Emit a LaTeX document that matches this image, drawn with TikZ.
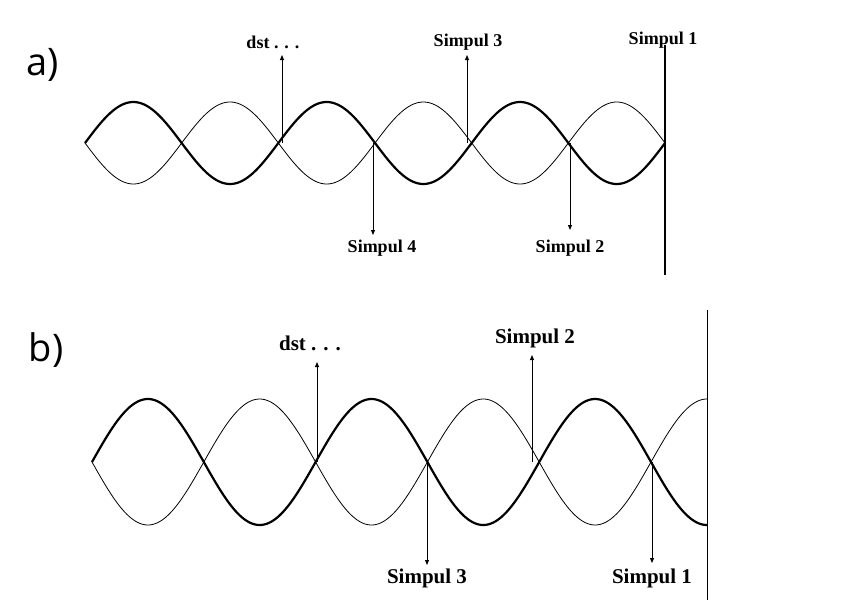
\documentclass[tikz,border=0pt]{standalone}
\usepackage{fontspec}
\setmainfont{Liberation Serif}
\newfontfamily\lab{Open Sans}
\usetikzlibrary{arrows.meta}
\begin{document}
\begin{tikzpicture}[x=1pt,y=-1pt,
  thick wave/.style={line width=2.2pt},
  thin wave/.style={line width=0.8pt},
  arr/.style={line width=0.9pt,-{Triangle[length=5pt,width=4pt]}},
  lbl/.style={font=\bfseries\fontsize{18}{18}\selectfont,inner sep=1pt},
  lblb/.style={font=\bfseries\fontsize{21}{21}\selectfont,inner sep=1pt},
  part/.style={font=\lab\fontsize{38}{38}\selectfont}]
\useasboundingbox (0,0) rectangle (850,608);
\node[part] (pa) at (43,65) {a)};
\node[part] (pb) at (46,350) {b)};
% part a
\draw[thick wave] plot[domain=85:665,samples=300] (\x,{143-41*sin(1.8620*(\x-85))});
\draw[thin wave] plot[domain=85:665,samples=300] (\x,{143+41*sin(1.8620*(\x-85))});
\draw[line width=2pt] (665,45) -- (665,275);
\coordinate (a1) at (282,143); \coordinate (a1e) at (282,55);
\coordinate (a3) at (467,143); \coordinate (a3e) at (467,55);
\coordinate (a4) at (373,143); \coordinate (a4e) at (373,235);
\coordinate (a2) at (570,143); \coordinate (a2e) at (570,230);
\draw[arr] (a1) -- (a1e); \draw[arr] (a3) -- (a3e);
\draw[arr] (a4) -- (a4e); \draw[arr] (a2) -- (a2e);
\node[lbl] (la1) at (273,42) {dst . . .};
\node[lbl] (la3) at (468,42) {Simpul 3};
\node[lbl] (la0) at (663,40) {Simpul 1};
\node[lbl] (la4) at (382,248) {Simpul 4};
\node[lbl] (la2) at (570,248) {Simpul 2};
% part b
\draw[thick wave] plot[domain=92:707,samples=300] (\x,{462-63*sin(1.6100*(\x-92))});
\draw[thin wave] plot[domain=92:707,samples=300] (\x,{462+63*sin(1.6100*(\x-92))});
\draw[line width=1pt] (707,310) -- (707,600);
\coordinate (b1) at (317,462); \coordinate (b1e) at (317,362);
\coordinate (b2) at (532,462); \coordinate (b2e) at (532,355);
\coordinate (b3) at (427,462); \coordinate (b3e) at (427,565);
\coordinate (b4) at (652,462); \coordinate (b4e) at (652,563);
\draw[arr] (b1) -- (b1e); \draw[arr] (b2) -- (b2e);
\draw[arr] (b3) -- (b3e); \draw[arr] (b4) -- (b4e);
\node[lblb] (lb1) at (310,343) {dst . . .};
\node[lblb] (lb2) at (535,338) {Simpul 2};
\node[lblb] (lb3) at (427,578) {Simpul 3};
\node[lblb] (lb4) at (652,578) {Simpul 1};
\end{tikzpicture}
\end{document}
